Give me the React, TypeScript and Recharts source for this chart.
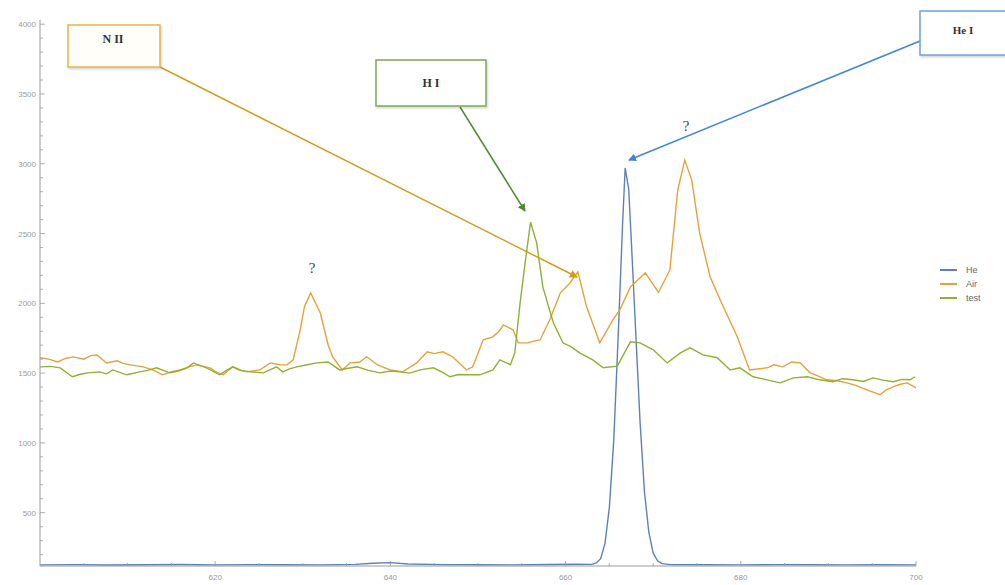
import { LineChart, Line, XAxis, YAxis } from "recharts"

// [wavelength nm, counts]
const heSeries: [number, number][] = [
  [600, 126], [604, 128], [608, 125], [612, 127], [616, 129], [620, 126], [624, 128], [628, 127],
  [632, 126], [636, 130], [638, 138], [640, 142], [642, 132], [646, 128], [650, 127], [654, 126],
  [658, 129], [661, 131], [663, 130], [663.5, 140], [664, 170], [664.5, 280], [665, 540], [665.5, 1020],
  [666, 1760], [666.5, 2560], [666.8, 2970], [667.2, 2820], [667.5, 2450], [668, 1800], [668.5, 1150],
  [669, 650], [669.5, 360], [670, 210], [670.5, 155], [671, 135], [672, 128], [676, 127], [680, 126],
  [684, 128], [688, 127], [692, 126], [696, 127], [700, 126],
]

const airSeries: [number, number][] = [
  [600, 1610], [601, 1600], [602, 1580], [602.9, 1605], [603.8, 1616], [605, 1600], [605.8, 1625],
  [606.5, 1630], [607.6, 1573], [608.8, 1588], [609.5, 1570], [610.3, 1559], [611.8, 1545], [613, 1520],
  [614, 1488], [615, 1510], [616, 1523], [617, 1545], [617.9, 1559], [619.4, 1538], [620.2, 1505],
  [620.9, 1488], [622, 1545], [622.8, 1520], [623.6, 1509], [625.1, 1523], [626.3, 1573], [627.4, 1560],
  [628.2, 1559], [628.9, 1595], [629.7, 1810], [630.2, 1980], [630.9, 2075], [632, 1931], [632.9, 1700],
  [633.4, 1617], [634.5, 1523], [635.4, 1573], [636.5, 1580], [637.3, 1617], [638.5, 1560], [639.3, 1540],
  [640, 1523], [641.4, 1509], [643, 1573], [644.2, 1653], [645, 1640], [646, 1653], [647.1, 1617],
  [648.7, 1523], [649.4, 1545], [650.6, 1739], [651.7, 1760], [652.4, 1800], [652.9, 1846], [654, 1810],
  [654.6, 1717], [655.6, 1717], [657.1, 1739], [658.2, 1882], [659.4, 2075], [660.5, 2146], [661.4, 2225],
  [662.4, 1975], [663.9, 1717], [665.4, 1882], [666.2, 1954], [667.4, 2118], [669.1, 2218], [670.6, 2078],
  [671.9, 2239], [672.8, 2811], [673.6, 3026], [674.4, 2883], [675.3, 2504], [676.5, 2189], [678, 1975],
  [679.6, 1760], [681, 1523], [683, 1538], [683.8, 1560], [684.8, 1545], [685.8, 1580], [686.8, 1573],
  [687.9, 1502], [688.8, 1480], [689.8, 1452], [691, 1445], [692.1, 1430], [693.2, 1410], [694.4, 1380],
  [695.9, 1345], [696.6, 1380], [697.4, 1402], [698.2, 1420], [699, 1430], [700, 1395],
]

const testSeries: [number, number][] = [
  [600, 1545], [601.2, 1548], [602.3, 1538], [603.7, 1474], [604.5, 1490], [605.4, 1502], [606.8, 1509],
  [607.6, 1495], [608.3, 1523], [609.9, 1488], [611.4, 1509], [612.3, 1520], [613.3, 1538], [614.8, 1502],
  [615.8, 1515], [616.8, 1538], [617.5, 1573], [619, 1538], [620.5, 1488], [621.3, 1520], [622, 1545],
  [623, 1520], [624, 1509], [625.5, 1502], [627, 1545], [627.7, 1509], [628.5, 1530], [629.3, 1545],
  [630.5, 1560], [631.6, 1573], [632.9, 1580], [634.2, 1523], [635.2, 1535], [636.2, 1545], [637.5, 1520],
  [638.8, 1502], [640, 1515], [641.1, 1509], [642.2, 1500], [643.4, 1523], [644.9, 1538], [645.8, 1510],
  [646.8, 1474], [647.8, 1490], [648.7, 1488], [650.2, 1488], [651.7, 1523], [652.5, 1595], [653.7, 1560],
  [654.2, 1645], [654.8, 2000], [655.4, 2300], [656, 2582], [656.7, 2432], [657.4, 2118], [658.6, 1861],
  [659.7, 1717], [660.6, 1690], [661.6, 1645], [663.1, 1595], [664.3, 1538], [665.9, 1550], [667.4, 1724],
  [668.5, 1717], [670, 1667], [671.6, 1573], [673.1, 1645], [674.2, 1681], [675.7, 1631], [677.3, 1610],
  [678.8, 1523], [679.9, 1538], [681.4, 1474], [683, 1452], [684.5, 1430], [686, 1466], [687.6, 1474],
  [689, 1452], [690.5, 1438], [691.6, 1460], [692.8, 1452], [694, 1440], [695.1, 1466], [696.2, 1450],
  [697.4, 1438], [698.4, 1455], [699.3, 1452], [699.9, 1474],
]

const xMajorTicks = [620, 640, 660, 680, 700]
const yMajorTicks = [500, 1000, 1500, 2000, 2500, 3000, 3500, 4000]

const xTicks: number[] = []
for (let t = 605; t <= 700; t += 5) xTicks.push(t)
const yTicks: number[] = []
for (let t = 200; t <= 4000; t += 100) yTicks.push(t)

const toPoints = (s: [number, number][]) => s.map(([nm, v]) => ({ nm, v }))

const series = [
  { name: "He", data: toPoints(heSeries), color: "#5E81B5" },
  { name: "Air", data: toPoints(airSeries), color: "#E5A238" },
  { name: "test", data: toPoints(testSeries), color: "#8FB032" },
]

const tickColor = "#9a9a9a"

function YTick({ x, y, payload }: any) {
  const major = yMajorTicks.includes(payload.value)
  return (
    <g>
      <line x1={x} x2={x + (major ? 5 : 3)} y1={y} y2={y} stroke={tickColor} strokeWidth={0.8} />
      {major && (
        <text x={x - 4} y={y} dy={3} textAnchor="end" fontSize={8} fill={tickColor} fontFamily="Liberation Sans, Arial, sans-serif">
          {payload.value}
        </text>
      )}
    </g>
  )
}

function XTick({ x, y, payload }: any) {
  const major = xMajorTicks.includes(payload.value)
  return (
    <g>
      <line x1={x} x2={x} y1={y} y2={y - (major ? 5 : 3)} stroke={tickColor} strokeWidth={0.8} />
      {major && (
        <text x={x} y={y + 14} textAnchor="middle" fontSize={8} fill={tickColor} fontFamily="Liberation Sans, Arial, sans-serif">
          {payload.value}
        </text>
      )}
    </g>
  )
}

function LegendBox() {
  return (
    <div
      style={{
        position: "absolute",
        left: 940,
        top: 263,
        fontFamily: "Liberation Sans, Arial, sans-serif",
        fontSize: 9,
        color: "#666",
      }}
    >
      {series.map((s) => (
        <div key={s.name} style={{ display: "flex", alignItems: "center", height: 14 }}>
          <span style={{ display: "inline-block", width: 17, height: 2, background: s.color, marginRight: 9 }} />
          <span>{s.name}</span>
        </div>
      ))}
    </div>
  )
}

function Annotations() {
  const serif = "Liberation Serif, DejaVu Serif, serif"
  return (
    <svg width={1005} height={585} style={{ position: "absolute", left: 0, top: 0, pointerEvents: "none" }}>
      <defs>
        <marker id="arO" markerWidth="8" markerHeight="8" refX="7" refY="4" orient="auto" markerUnits="userSpaceOnUse">
          <path d="M0,0 L8,4 L0,8 z" fill="#D39A1E" />
        </marker>
        <marker id="arG" markerWidth="8" markerHeight="8" refX="7" refY="4" orient="auto" markerUnits="userSpaceOnUse">
          <path d="M0,0 L8,4 L0,8 z" fill="#4E8A30" />
        </marker>
        <marker id="arB" markerWidth="8" markerHeight="8" refX="7" refY="4" orient="auto" markerUnits="userSpaceOnUse">
          <path d="M0,0 L8,4 L0,8 z" fill="#3F86D6" />
        </marker>
        <filter id="sh" x="-10%" y="-10%" width="130%" height="140%">
          <feDropShadow dx="1" dy="1.5" stdDeviation="1" floodColor="#000" floodOpacity="0.18" />
        </filter>
      </defs>

      <line x1={160} y1={67} x2={577} y2={277} stroke="#D39A1E" strokeWidth={1.5} markerEnd="url(#arO)" />
      <line x1={460} y1={107} x2={525} y2={211} stroke="#4E8A30" strokeWidth={1.5} markerEnd="url(#arG)" />
      <line x1={920} y1={41} x2={629} y2={160} stroke="#3F86D6" strokeWidth={1.5} markerEnd="url(#arB)" />

      <rect x={68} y={25} width={92} height={42} fill="#fffef8" stroke="#E2B54A" strokeWidth={1.5} filter="url(#sh)" />
      <text x={113} y={43} textAnchor="middle" fontSize={12} fontWeight="bold" fill="#333" fontFamily={serif}>N II</text>

      <rect x={376} y={60} width={110} height={46} fill="#ffffff" stroke="#7FA65A" strokeWidth={1.5} filter="url(#sh)" />
      <text x={431} y={87} textAnchor="middle" fontSize={12} fontWeight="bold" fill="#333" fontFamily={serif}>H I</text>

      <rect x={920} y={11} width={95} height={44} fill="#ffffff" stroke="#6FA0D8" strokeWidth={1.5} filter="url(#sh)" />
      <text x={963} y={34} textAnchor="middle" fontSize={11} fontWeight="bold" fill="#333" fontFamily={serif}>He I</text>

      <text x={312} y={273} textAnchor="middle" fontSize={15} fill="#444" fontFamily={serif}>?</text>
      <text x={686} y={131} textAnchor="middle" fontSize={15} fill="#444" fontFamily={serif}>?</text>
    </svg>
  )
}

export default function App() {
  return (
    <div style={{ position: "relative", width: 1005, height: 585, background: "#fff" }}>
      <style>{`body{margin:0}`}</style>
      <LineChart width={1005} height={585} margin={{ top: 20, right: 89, bottom: 0, left: 4 }}>
        <XAxis
          type="number"
          dataKey="nm"
          domain={[600, 700]}
          allowDataOverflow
          ticks={xTicks}
          tick={<XTick />}
          tickLine={false}
          tickSize={0}
          tickMargin={0}
          height={19}
          stroke={tickColor}
          interval={0}
        />
        <YAxis
          type="number"
          dataKey="v"
          domain={[118, 4030]}
          allowDataOverflow
          ticks={yTicks}
          tick={<YTick />}
          tickLine={false}
          tickSize={0}
          tickMargin={0}
          width={36}
          stroke={tickColor}
          interval={0}
        />
        {series.map((s) => (
          <Line
            key={s.name}
            data={s.data}
            dataKey="v"
            name={s.name}
            type="linear"
            stroke={s.color}
            strokeWidth={1.4}
            dot={false}
            isAnimationActive={false}
          />
        ))}
      </LineChart>
      <LegendBox />
      <Annotations />
    </div>
  )
}
